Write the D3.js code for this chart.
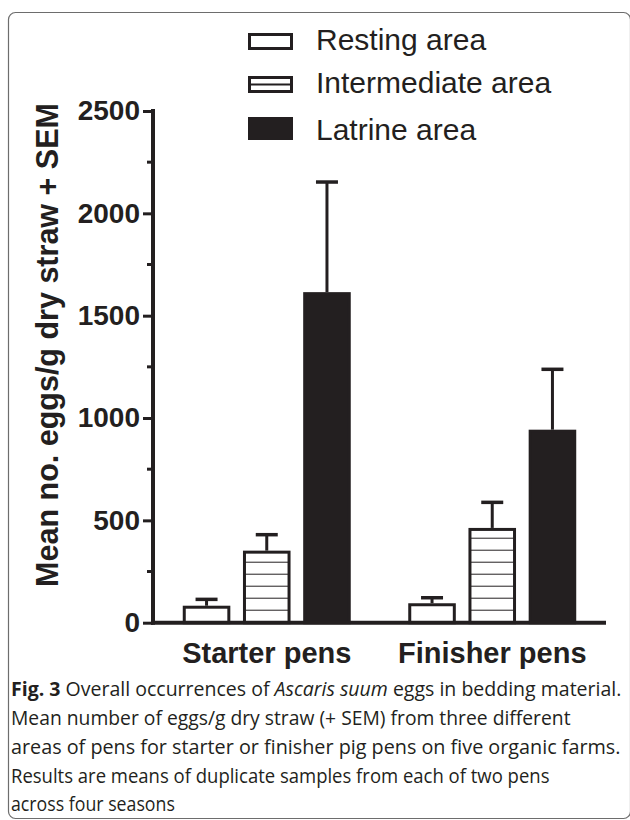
<!DOCTYPE html>
<html>
<head>
<meta charset="utf-8">
<script src="https://cdn.jsdelivr.net/npm/d3@7"></script>
<style>
  html, body { margin: 0; padding: 0; background: #fff; }
  svg { display: block; }
</style>
</head>
<body>
<svg id="chart" width="630" height="820"></svg>
<script>
// Pen types on the x axis and the three bedding areas within each
const categories = ["Starter pens", "Finisher pens"];
const areas = ["Resting area", "Intermediate area", "Latrine area"];

// Mean eggs/g dry straw per area, one entry per pen type
const restingMean = [83, 95];
const intermediateMean = [352, 463];
const latrineMean = [1615, 943];

// Upper end of each error bar (mean + SEM)
const restingTop = [114, 122];
const intermediateTop = [430, 588];
const latrineTop = [2153, 1238];

const yTicks = [0, 500, 1000, 1500, 2000, 2500];
const yMinorTicks = [250, 750, 1250, 1750, 2250];

const captionLines = [
  [{t: "Fig. 3", b: true}, {t: " Overall occurrences of "}, {t: "Ascaris suum", i: true}, {t: " eggs in bedding material."}],
  [{t: "Mean number of eggs/g dry straw (+ SEM) from three different"}],
  [{t: "areas of pens for starter or finisher pig pens on five organic farms."}],
  [{t: "Results are means of duplicate samples from each of two pens"}],
  [{t: "across four seasons"}]
];

const ink = "#231f20";
const helv = "'Liberation Sans', Arial, Helvetica, sans-serif";
const svg = d3.select("#chart");

// Rounded panel frame (its right side runs along the page edge)
svg.append("rect")
  .attr("x", 8.5).attr("y", 12.5)
  .attr("width", 622).attr("height", 806)
  .attr("rx", 7).attr("ry", 7)
  .attr("fill", "none").attr("stroke", "#6d6d6d").attr("stroke-width", 1.2);

// Horizontal-line hatch for the intermediate area, phased from the baseline
const y = d3.scaleLinear().domain([0, 2500]).range([622.7, 111]);
const hatchStep = 12;
const defs = svg.append("defs");
const pat = defs.append("pattern")
  .attr("id", "hatch")
  .attr("patternUnits", "userSpaceOnUse")
  .attr("x", 0).attr("y", y(0) % hatchStep)
  .attr("width", 10).attr("height", hatchStep);
pat.append("rect").attr("width", 10).attr("height", hatchStep).attr("fill", "#fff");
pat.append("rect").attr("x", 0).attr("y", hatchStep - 1).attr("width", 10).attr("height", 2).attr("fill", ink);

const x0 = d3.scaleBand().domain(categories).range([153, 606]).paddingInner(0.255).paddingOuter(0.132);
const x1 = d3.scaleBand().domain(areas).range([0, x0.bandwidth()]).paddingInner(0.21).paddingOuter(0);

const means = {"Resting area": restingMean, "Intermediate area": intermediateMean, "Latrine area": latrineMean};
const tops = {"Resting area": restingTop, "Intermediate area": intermediateTop, "Latrine area": latrineTop};
const fills = {"Resting area": "#fff", "Intermediate area": "url(#hatch)", "Latrine area": ink};

const rows = [];
categories.forEach((c, ci) => {
  areas.forEach(a => rows.push({cat: c, area: a, mean: means[a][ci], top: tops[a][ci]}));
});

const barStroke = 3;
const g = svg.append("g");
const cx = d => x0(d.cat) + x1(d.area) + x1.bandwidth() / 2;

// Error bars (drawn first so the bar outline sits over the stem foot)
const err = g.selectAll("g.err").data(rows).join("g").attr("class", "err");
err.append("line")
  .attr("x1", cx).attr("x2", cx)
  .attr("y1", d => y(d.mean)).attr("y2", d => y(d.top))
  .attr("stroke", ink).attr("stroke-width", 3);
err.append("line")
  .attr("x1", d => cx(d) - 11).attr("x2", d => cx(d) + 11)
  .attr("y1", d => y(d.top)).attr("y2", d => y(d.top))
  .attr("stroke", ink).attr("stroke-width", 3.5);

// Bars
g.selectAll("rect.bar").data(rows).join("rect")
  .attr("class", "bar")
  .attr("x", d => x0(d.cat) + x1(d.area) + barStroke / 2)
  .attr("y", d => y(d.mean) + barStroke / 2)
  .attr("width", x1.bandwidth() - barStroke)
  .attr("height", d => y(0) - y(d.mean) - barStroke / 2)
  .attr("fill", d => fills[d.area])
  .attr("stroke", ink).attr("stroke-width", barStroke);

// Y axis
const yAxis = d3.axisLeft(y).tickValues(yTicks).tickFormat(d3.format("d"))
  .tickSize(10).tickPadding(3).tickSizeOuter(0);
const ya = svg.append("g").attr("transform", "translate(153,0)").call(yAxis);
ya.select(".domain").attr("stroke", ink).attr("stroke-width", 4)
  .attr("d", `M0,${y(2500) - 2}V${y(0) + 2}`);
ya.selectAll(".tick line").attr("stroke", ink).attr("stroke-width", 3);
ya.selectAll(".tick text")
  .attr("fill", ink)
  .style("font-family", helv)
  .style("font-weight", "bold").style("font-size", "28px");
// Minor ticks
ya.selectAll("line.minor").data(yMinorTicks).join("line")
  .attr("class", "minor")
  .attr("x1", -6).attr("x2", 0)
  .attr("y1", d => y(d)).attr("y2", d => y(d))
  .attr("stroke", ink).attr("stroke-width", 3);

// Baseline (x axis line)
svg.append("line")
  .attr("x1", 151).attr("x2", 606)
  .attr("y1", y(0)).attr("y2", y(0))
  .attr("stroke", ink).attr("stroke-width", 4);

// Category labels
const xAxis = d3.axisBottom(x0).tickSize(0).tickPadding(0);
const xa = svg.append("g").attr("transform", `translate(0,${y(0)})`).call(xAxis);
xa.select(".domain").remove();
xa.selectAll(".tick text")
  .attr("y", 0).attr("dy", 0)
  .attr("transform", "translate(0,40)")
  .attr("fill", ink)
  .style("font-family", helv)
  .style("font-weight", "bold").style("font-size", "29px");

// Y axis title
svg.append("text")
  .attr("transform", "translate(58,345) rotate(-90)")
  .attr("text-anchor", "middle")
  .attr("fill", ink)
  .style("font-family", helv)
  .style("font-weight", "bold").style("font-size", "30.5px")
  .text("Mean no. eggs/g dry straw + SEM");

// Legend
const legendY = [33, 76, 117];
const legendH = [17, 17, 23];
const leg = svg.append("g");
areas.forEach((a, i) => {
  leg.append("rect")
    .attr("x", 249.5).attr("y", legendY[i] + 1.5)
    .attr("width", 42).attr("height", legendH[i] - 3)
    .attr("fill", a === "Latrine area" ? ink : "#fff")
    .attr("stroke", ink).attr("stroke-width", 3);
  if (a === "Intermediate area") {
    leg.append("line")
      .attr("x1", 249.5).attr("x2", 291.5)
      .attr("y1", legendY[i] + legendH[i] / 2).attr("y2", legendY[i] + legendH[i] / 2)
      .attr("stroke", ink).attr("stroke-width", 2);
  }
  leg.append("text")
    .attr("x", 316).attr("y", legendY[i] + legendH[i] - 0.5)
    .attr("fill", ink)
    .style("font-family", helv)
    .style("font-size", "30px")
    .text(a);
});

// Caption: one text element per line, squeezed horizontally to the set measure
const capX = 11;
const capBase = [696, 725, 754, 783, 811];
const capEnd = [622, 571, 621, 550, 175];
captionLines.forEach((line, li) => {
  const t = svg.append("text")
    .attr("fill", ink)
    .style("font-family", "'Open Sans', 'Noto Sans', sans-serif")
    .style("font-size", "20px");
  line.forEach(seg => {
    t.append("tspan")
      .style("font-weight", seg.b ? "bold" : null)
      .style("font-style", seg.i ? "italic" : null)
      .text(seg.t);
  });
  const w = t.node().getComputedTextLength();
  const s = (capEnd[li] - capX) / w;
  t.attr("transform", `translate(${capX},${capBase[li]}) scale(${s},1)`);
});
</script>
</body>
</html>
